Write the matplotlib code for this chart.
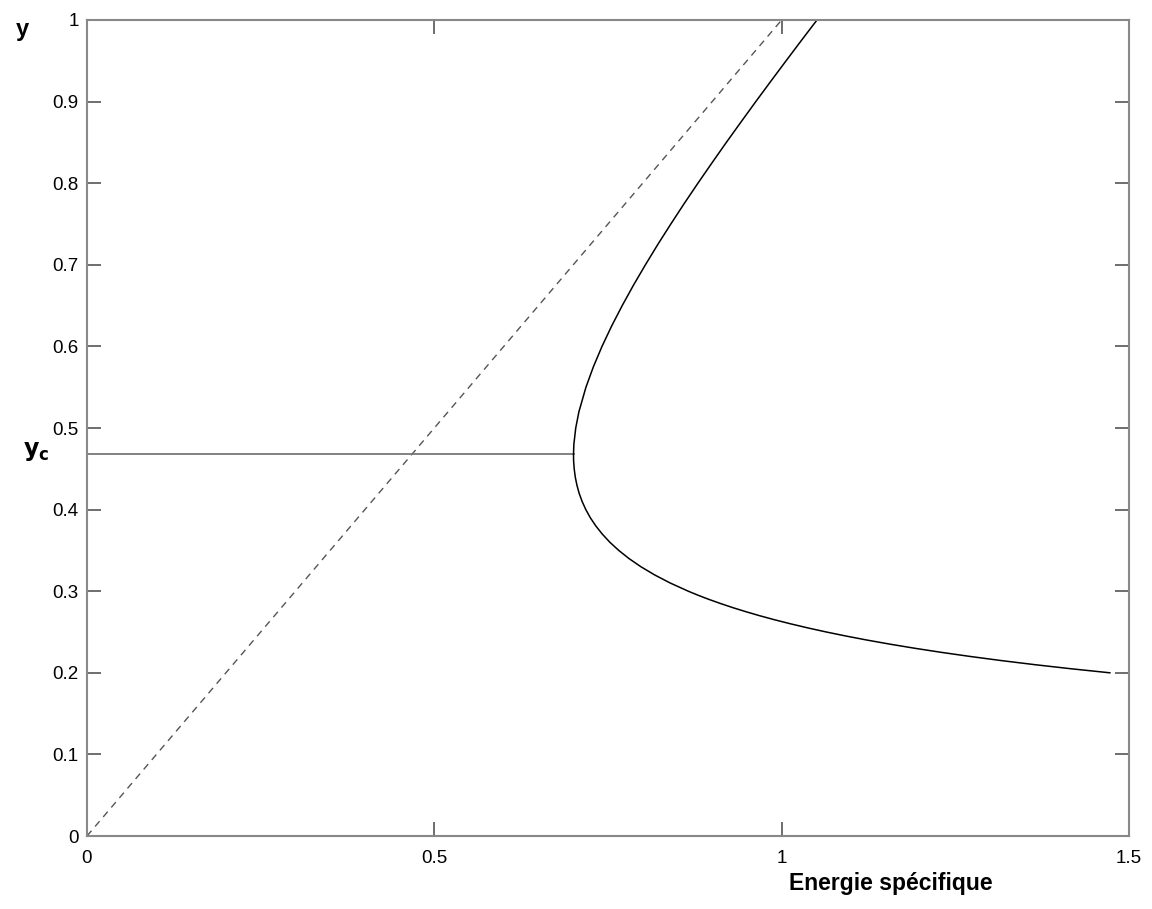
import matplotlib
matplotlib.use('Agg')
import matplotlib.pyplot as plt

plt.rcParams['font.family'] = ['Liberation Sans', 'DejaVu Sans']

# depth y and the matching specific energy E along the curve
depth = [0.200, 0.205, 0.210, 0.215, 0.220, 0.225, 0.230, 0.235, 0.240,
         0.245, 0.250, 0.255, 0.260, 0.265, 0.270, 0.275, 0.280, 0.285,
         0.290, 0.295, 0.300, 0.310, 0.320, 0.330, 0.340, 0.350, 0.360,
         0.370, 0.380, 0.390, 0.400, 0.410, 0.420, 0.430, 0.440, 0.450,
         0.460, 0.468, 0.480, 0.500, 0.520, 0.550, 0.575, 0.600, 0.625,
         0.650, 0.675, 0.700, 0.725, 0.750, 0.775, 0.800, 0.825, 0.850,
         0.875, 0.900, 0.925, 0.950, 0.975, 1.000]
energy = [1.4725, 1.4162, 1.3642, 1.3161, 1.2717, 1.2304, 1.1922, 1.1567,
          1.1237, 1.0930, 1.0644, 1.0378, 1.0130, 0.9898, 0.9682, 0.9481,
          0.9292, 0.9117, 0.8952, 0.8799, 0.8656, 0.8397, 0.8171, 0.7974,
          0.7803, 0.7655, 0.7527, 0.7418, 0.7325, 0.7246, 0.7181, 0.7128,
          0.7085, 0.7053, 0.7029, 0.7014, 0.7005, 0.7004, 0.7009, 0.7036,
          0.7082, 0.7183, 0.7290, 0.7414, 0.7553, 0.7705, 0.7867, 0.8039,
          0.8218, 0.8405, 0.8597, 0.8795, 0.8998, 0.9204, 0.9415, 0.9628,
          0.9845, 1.0064, 1.0285, 1.0509]

# line E = y
diag_x = [0, 1]
diag_y = [0, 1]

# critical depth and minimum energy
y_crit = 0.468
e_min = 0.7004

x_ticks = [0, 0.5, 1, 1.5]
x_tick_labels = ['0', '0.5', '1', '1.5']
y_ticks = [0, 0.1, 0.2, 0.3, 0.4, 0.5, 0.6, 0.7, 0.8, 0.9, 1]
y_tick_labels = ['0', '0.1', '0.2', '0.3', '0.4', '0.5', '0.6', '0.7', '0.8', '0.9', '1']

fig = plt.figure(figsize=(11.52, 9.09), dpi=100)
ax = fig.add_axes([0.0755, 0.0803, 0.9045, 0.8977])

ax.plot(diag_x, diag_y, color='#555555', lw=1.0, dashes=(5, 4))
ax.plot([0, e_min], [y_crit, y_crit], color='#777777', lw=1.3)
ax.plot(energy, depth, color='black', lw=1.1)

ax.set_xlim(0, 1.5)
ax.set_ylim(0, 1)
ax.set_xticks(x_ticks)
ax.set_xticklabels(x_tick_labels)
ax.set_yticks(y_ticks)
ax.set_yticklabels(y_tick_labels)
ax.tick_params(direction='in', length=10, width=1.2, color='#555555',
               top=True, right=True, labelsize=13.5, pad=6)
ax.tick_params(axis='x', pad=10)
for s in ax.spines.values():
    s.set_color('#888888')
    s.set_linewidth(1.5)

fig.text(0.014, 0.967, 'y', fontsize=17, fontweight='bold', ha='left', va='center')
fig.text(0.02, 0.503, r'$\mathbf{y_c}$', fontsize=17, ha='left', va='center')
fig.text(0.773, 0.028, 'Energie spécifique', fontsize=16.5, fontweight='bold',
         ha='center', va='center')

fig.savefig('out.png', dpi=100)
